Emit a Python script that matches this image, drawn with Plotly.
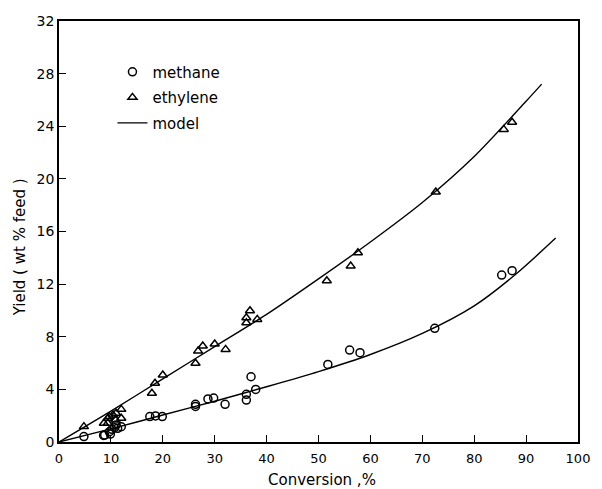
import plotly.graph_objects as go

# Data
methane_x = [4.8, 8.6, 8.8, 9.7, 9.9, 10.2, 10.7, 11.0, 11.3, 12.0, 17.5, 18.6, 19.9,
             26.3, 26.3, 28.7, 29.8, 32.0, 36.1, 36.1, 37.0, 37.9,
             51.8, 56.0, 58.0, 72.4, 85.3, 87.3]
methane_y = [0.41, 0.5, 0.53, 0.78, 0.6, 0.96, 1.09, 1.29, 1.04, 1.16, 1.93, 1.98, 1.93,
             2.86, 2.7, 3.27, 3.34, 2.86, 3.62, 3.19, 4.96, 4.0,
             5.9, 6.99, 6.79, 8.64, 12.69, 13.02]

ethylene_x = [4.8, 8.65, 9.4, 9.4, 9.7, 10.4, 10.9, 11.0, 12.0, 12.0, 17.9, 18.5, 20.0,
              26.3, 26.8, 27.7, 30.0, 32.1, 36.1, 36.1, 36.8, 38.2,
              51.6, 56.2, 57.6, 72.6, 85.7, 87.3]
ethylene_y = [1.17, 1.42, 1.8, 1.42, 1.93, 2.05, 1.67, 2.18, 2.48, 1.8, 3.7, 4.46, 5.09,
              5.98, 6.91, 7.3, 7.45, 7.04, 9.07, 9.45, 9.98, 9.32,
              12.26, 13.37, 14.39, 19.0, 23.76, 24.3]

model_eth_x = [0, 10, 20, 30, 40, 50, 60, 70, 80, 90, 93]
model_eth_y = [0, 2.35, 4.8, 7.25, 9.7, 12.4, 15.2, 18.2, 21.7, 25.9, 27.2]

model_met_x = [0, 10, 20, 30, 40, 50, 60, 70, 80, 88, 95.7]
model_met_y = [0, 1.0, 2.05, 3.1, 4.2, 5.35, 6.65, 8.25, 10.35, 12.75, 15.5]

x_ticks = [0, 10, 20, 30, 40, 50, 60, 70, 80, 90, 100]
y_ticks = [0, 4, 8, 12, 16, 20, 24, 28, 32]

FONT = "DejaVu Sans"

fig = go.Figure()
fig.add_trace(go.Scatter(
    x=methane_x, y=methane_y, mode="markers", name="methane", legendgroup="a",
    marker=dict(symbol="circle-open", size=8, color="black", line=dict(width=1.5, color="black"))))
fig.add_trace(go.Scatter(
    x=ethylene_x, y=ethylene_y, mode="markers", name="ethylene", legendgroup="b",
    marker=dict(symbol="triangle-up-open", size=8, color="black", line=dict(width=1.5, color="black"))))
fig.add_trace(go.Scatter(
    x=model_eth_x, y=model_eth_y, mode="lines", name="model", legendgroup="c",
    line=dict(color="black", width=1.4, shape="spline", smoothing=0.8)))
fig.add_trace(go.Scatter(
    x=model_met_x, y=model_met_y, mode="lines", name="model", legendgroup="c", showlegend=False,
    line=dict(color="black", width=1.4, shape="spline", smoothing=0.8)))

fig.update_layout(
    width=602, height=489,
    margin=dict(l=59, r=19, t=21, b=47),
    paper_bgcolor="white", plot_bgcolor="white",
    font=dict(family=FONT, size=13, color="black"),
    showlegend=True,
    legend=dict(x=0.103, y=0.818, xanchor="left", yanchor="middle",
                bgcolor="rgba(0,0,0,0)", font=dict(size=15, family=FONT),
                tracegroupgap=3),
    xaxis=dict(range=[0, 100], tickvals=x_ticks, ticks="inside", ticklen=7, tickwidth=1.3,
               tickcolor="black", showline=True, linecolor="black", linewidth=1.5, mirror=True,
               showgrid=False, zeroline=False, ticklabelstandoff=4,
               tickfont=dict(size=13)),
    yaxis=dict(range=[0, 32], tickvals=y_ticks, ticks="inside", ticklen=7, tickwidth=1.3,
               tickcolor="black", showline=True, linecolor="black", linewidth=1.5, mirror=True,
               showgrid=False, zeroline=False,
               tickfont=dict(size=14)),
    annotations=[
        dict(text="Conversion ,%", xref="paper", yref="paper",
             x=(325 - 59) / 524, y=-(480 - 442) / 421, xanchor="center", yanchor="middle",
             showarrow=False, font=dict(size=15)),
        dict(text="Yield ( wt % feed )", xref="paper", yref="paper", textangle=-90,
             x=-(59 - 20) / 524, y=(442 - 247) / 421, xanchor="center", yanchor="middle",
             showarrow=False, font=dict(size=15)),
    ],
)

fig.write_html("out.html")
